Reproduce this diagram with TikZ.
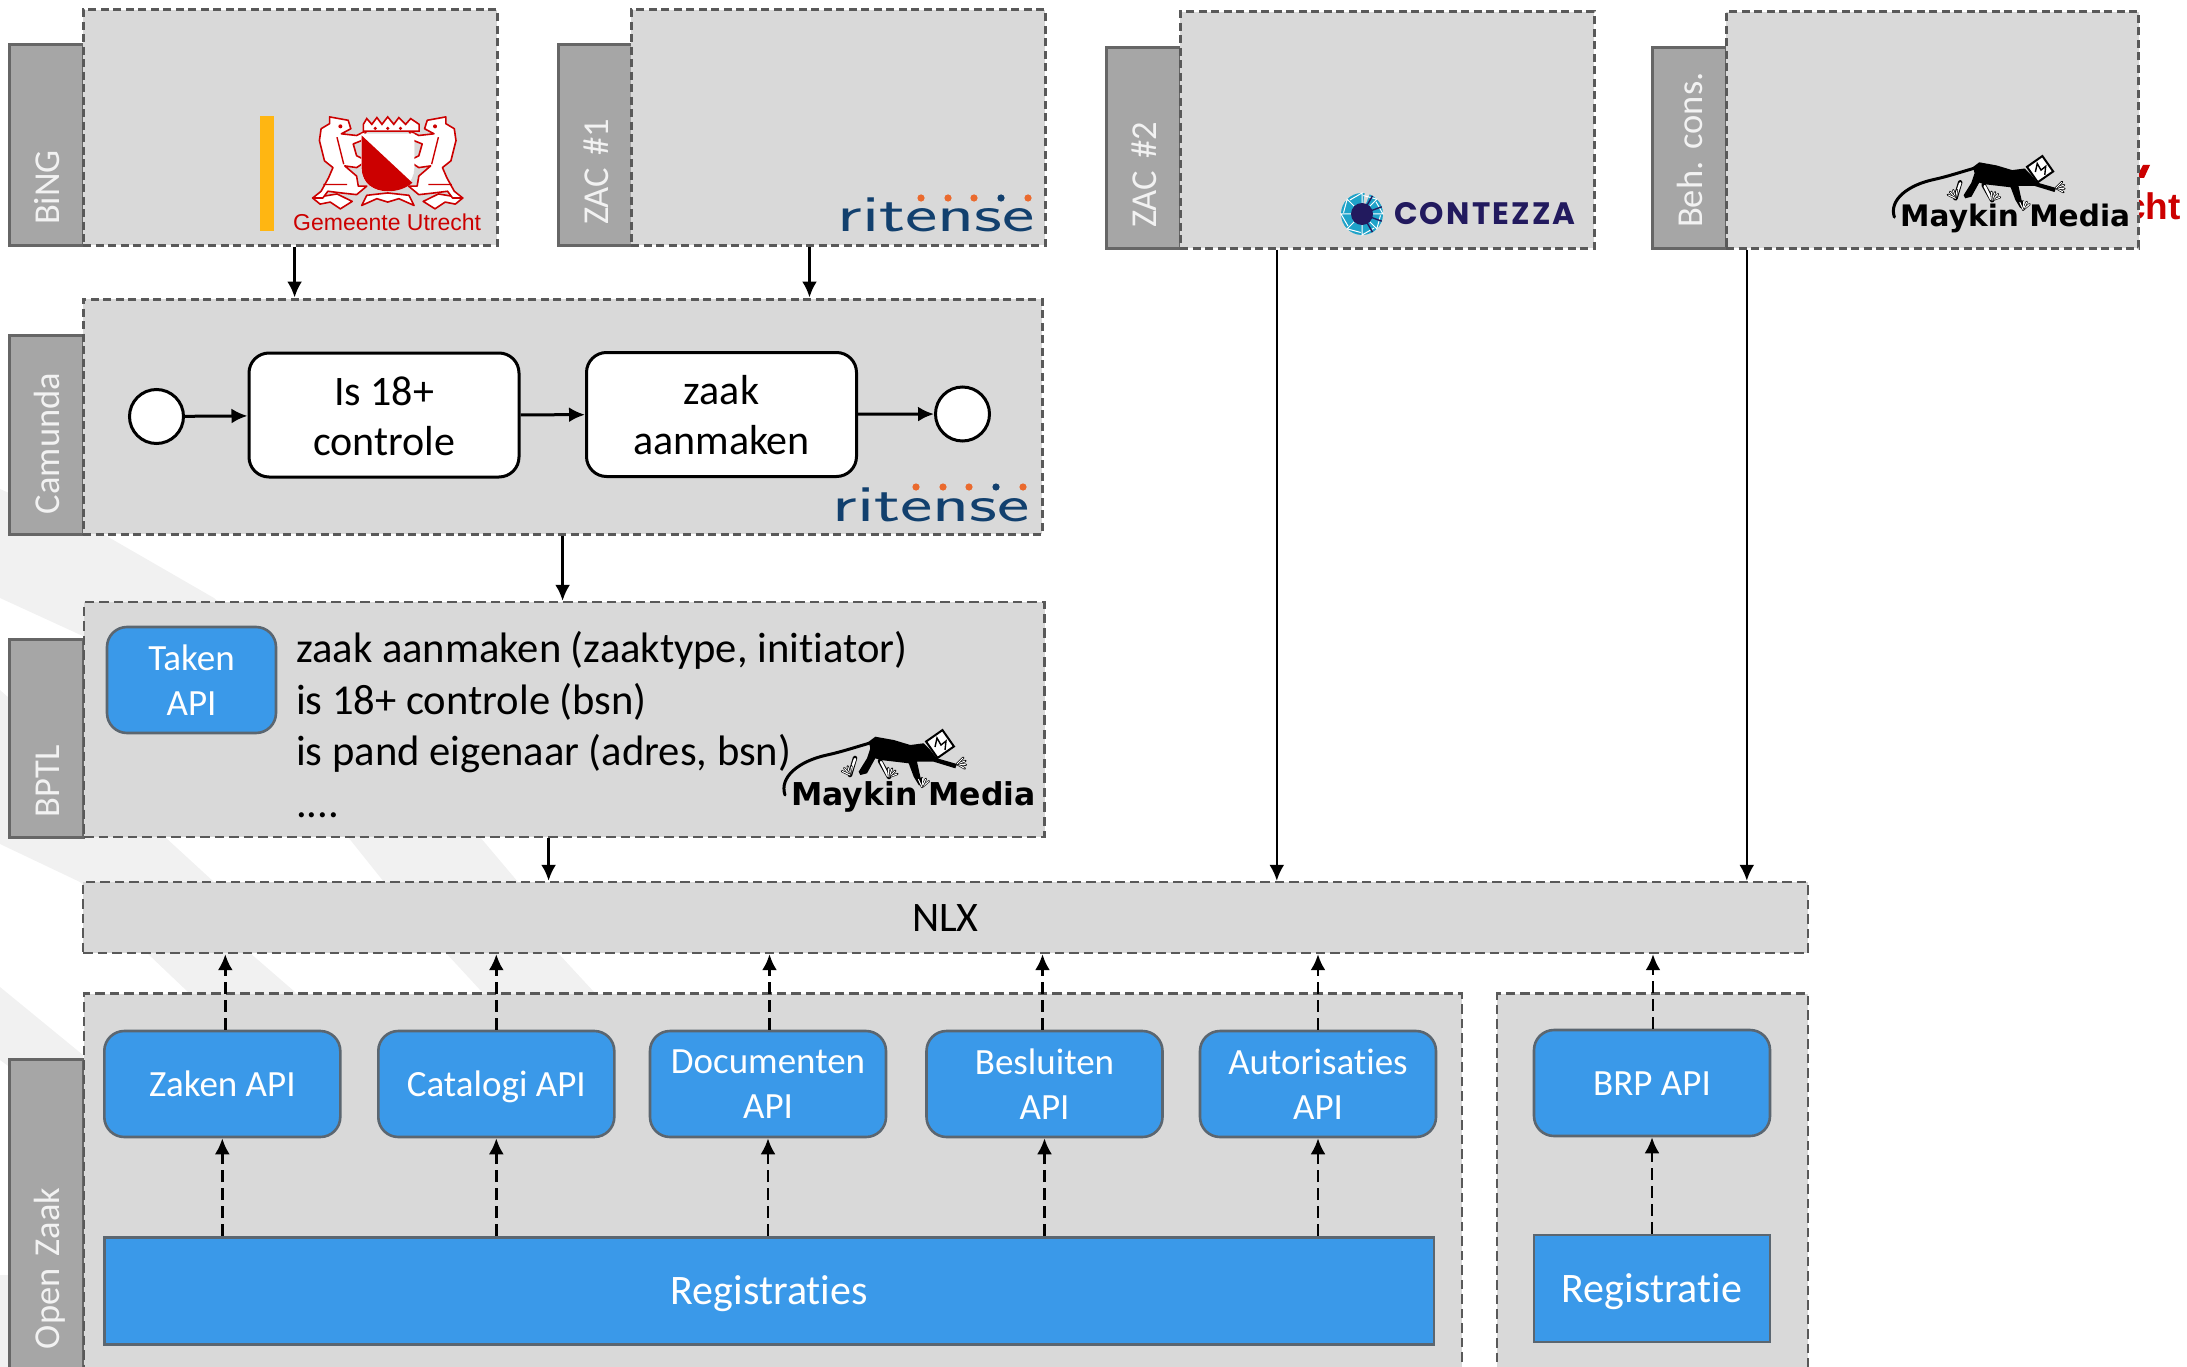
\documentclass[tikz,border=0pt]{standalone}
\usepackage{fontspec}
\usepackage{tikz}
\usetikzlibrary{arrows.meta}
\setmainfont[Ligatures=NoCommon]{Carlito}
\newfontfamily\logofont{Liberation Sans}
\newfontfamily\maykinfont{DejaVu Sans}
\newfontfamily\contezzafont[LetterSpace=7]{Poppins}
\definecolor{lanefill}{HTML}{D9D9D9}
\definecolor{laneline}{HTML}{595959}
\definecolor{tabfill}{HTML}{A6A6A6}
\definecolor{tabline}{HTML}{666666}
\definecolor{tabtext}{HTML}{F2F2F2}
\definecolor{apiblue}{HTML}{3A99E9}
\definecolor{apiline}{HTML}{5B6670}
\definecolor{stripe}{HTML}{F1F1F1}
\definecolor{utrechtred}{HTML}{CC0000}
\definecolor{utrechtbar}{HTML}{FFB612}
\definecolor{ritenseblue}{HTML}{12406E}
\definecolor{ritenseorange}{HTML}{EA6A2E}
\definecolor{contezzablue}{HTML}{221A5E}
\definecolor{contezzateal}{HTML}{1FA3C9}

\begin{document}
\begin{tikzpicture}
    [x=1pt, y=-1pt,
    lane/.style = {draw = laneline, fill = lanefill, line width = 3pt, dash pattern = on 8pt off 4.5pt, inner sep = 0pt},
    thinlane/.style = {lane, line width = 2.4pt, dash pattern = on 9.5pt off 5pt},
    tab/.style = {rotate = 90, draw = tabline, fill = tabfill, line width = 3pt, minimum height = 74pt, inner xsep = 20pt, inner ysep = 0pt,
        text width = #1, align = left, text height = 26pt, text depth = 0pt, text = tabtext, font = \fontsize{36.5}{40}\selectfont},
    task/.style = {draw = black, fill = white, line width = 3pt, rounded corners = 20pt, minimum width = 270pt, minimum height = 124pt,
        align = center, text height = 80pt, text depth = 0pt, font = \fontsize{42}{50}\selectfont},
    event/.style = {circle, draw = black, fill = white, line width = 3pt, minimum size = 54pt, inner sep = 0pt},
    api/.style = {draw = apiline, fill = apiblue, line width = 2.6pt, rounded corners = 20pt, minimum width = 236pt, minimum height = 106pt,
        align = center, text = white, font = \fontsize{37}{44.6}\selectfont},
    oneline/.style = {text height = 24pt, text depth = 0pt},
    store/.style = {draw = apiline, fill = apiblue, line width = 2.6pt, minimum height = 107pt, text height = 27pt, text depth = 0pt,
        text = white, font = \fontsize{42}{50}\selectfont},
    flow/.style = {draw = black, line width = 2.6pt, -{Latex[length = 16pt, width = 15pt]}},
    thickflow/.style = {flow, line width = 3pt},
    dashflow/.style = {flow, dash pattern = on 12pt off 6pt},
    ritense/.pic = {
        \foreach \dotx/\dotcolor in {-114/ritenseorange,-87/ritenseorange,-61/ritenseorange,-34/ritenseblue,-7/ritenseorange}
          \fill[\dotcolor] (\dotx,-34) circle (3.6pt);
        \node[anchor = base east, inner sep = 0pt, transform shape, xscale = 1.48, text = ritenseblue,
            font = \sffamily\fontsize{52}{52}\selectfont] (-text) at (0,0) {ritense};
    },
    maykin/.pic = {
        % tail, body and head of the monkey
        \draw[line width = 3pt, line cap = round] (-6,-10) .. controls (-12,-28) and (8,-44) .. (36,-50) .. controls (50,-53) and (65,-58) .. (79,-62);
        \draw[line width = 4.5pt, line cap = round] (64,-47) -- (59,-30) (89,-44) -- (98,-28);
        \draw[white, line width = 2.4pt, line cap = round] (64,-46) -- (59,-31) (90,-43) -- (97,-29);
        \fill[black] (77.7,-63.3) -- (84.3,-68.3) -- (102.7,-65) -- (119.3,-60) -- (132.7,-61.7) -- (139.3,-55) -- (146,-46.7)
            -- (166,-41) -- (164.3,-36.7) -- (142.7,-43.3) -- (126,-43.3) -- (129.3,-28.3) -- (132.7,-18.3) -- (127.7,-20)
            -- (122.7,-28.3) -- (117.7,-41.7) -- (104.3,-43.3) -- (89.3,-45) -- (84.3,-46.7) -- (76,-31.7) -- (69.3,-30)
            -- (67.7,-33.3) -- (76,-46.7) -- (79.3,-56.7) -- cycle;
        \draw[fill = white, line width = 2pt, rotate around = {35:(149,-61)}] (139,-71) rectangle (159,-51);
        \draw[line width = 1.4pt] (144,-58) -- (146,-67) -- (150,-60) -- (155,-64) -- (154,-55);
        \foreach \handx/\handy/\handangle in {166/-41/10,59/-30/120,98/-28/60,131/-18/80}
          \foreach \finger in {-40,-15,10,35} {
            \draw[line width = 2.2pt, line cap = round] (\handx,\handy) -- ++(\handangle+\finger:9pt);
            \draw[white, line width = 1pt, line cap = round] (\handx,\handy) -- ++(\handangle+\finger:8.4pt);
          }
        \node[anchor = base west, inner sep = 0pt, transform shape, text = black,
            font = \maykinfont\bfseries\fontsize{31.5}{31.5}\selectfont] (-text) at (0,0) {Maykin Media};
    }]
    \useasboundingbox (0,0) rectangle (2187,1367);
    \clip (0,0) rectangle (2187,1367);

    % faint stripes behind the boxes
    \fill[stripe] (0,489) -- (103,534) -- (214,598) -- (350,720) -- (480,837) -- (518,882) -- (558,953) -- (594,992) -- (610,1020)
        -- (500,1020) -- (482,992) -- (446,953) -- (384,882) -- (348,837) -- (85,637) -- (0,598) -- cycle;
    \fill[stripe] (0,690) -- (165,837) -- (214,882) -- (250,953) -- (295,992) -- (320,1020) -- (210,1020) -- (188,992)
        -- (147,953) -- (80,882) -- (0,844) -- cycle;
    \fill[stripe] (0,987) -- (83,1055) -- (83,1120) -- (0,1060) -- cycle;
    \fill[stripe] (0,1275) rectangle (12,1367);

    % logo that sticks out behind the last box
    \node[anchor = base east, inner sep = 0pt, text = utrechtred, font = \logofont\bfseries\fontsize{37}{37}\selectfont] (chtpart) at (2181,219) {cht};
    \fill[utrechtred] (2136,178) -- (2144,178) -- (2150,165) -- (2143,165) -- cycle;

    \node[tab = 160pt] (bingtab) at (46,145) {BiNG};
    \node[tab = 160pt] (zac1tab) at (595,145) {ZAC \#1};
    \node[tab = 160pt] (zac2tab) at (1143,148) {ZAC \#2};
    \node[tab = 160pt] (behtab) at (1689,148) {Beh.~cons.};
    \node[tab = 159pt] (camundatab) at (46,434.5) {Camunda};
    \node[tab = 158pt] (bptltab) at (46,738) {BPTL};
    \node[tab = 270pt] (openzaaktab) at (46,1214) {Open Zaak};

    \node[lane, minimum width = 414pt, minimum height = 235pt] (bing) at (290,127.5) {};
    \node[lane, minimum width = 414pt, minimum height = 235pt] (zac1) at (838,127.5) {};
    \node[lane, minimum width = 414pt, minimum height = 236pt] (zac2) at (1387,130) {};
    \node[lane, minimum width = 412.5pt, minimum height = 236pt] (beh) at (1932.3,130) {};
    \node[lane, minimum width = 959pt, minimum height = 235pt] (camunda) at (562.5,416.5) {};
    \node[thinlane, minimum width = 960.5pt, minimum height = 235pt] (bptl) at (564.3,719.5) {};
    \node[thinlane, minimum width = 1725pt, minimum height = 71pt, text height = 27pt, text depth = 0pt, font = \fontsize{42}{50}\selectfont] (nlx) at (945.5,917.5) {NLX};
    \node[thinlane, minimum width = 1378pt, minimum height = 440pt] (openzaak) at (773,1213.5) {};
    \node[thinlane, minimum width = 311pt, minimum height = 440pt] (brpbox) at (1652.5,1213.5) {};

    % logos in the boxes
    \fill[utrechtbar] (260,116) rectangle (274,231);
    \begin{scope}[shift = {(240,100)}, x = .338pt, y = -.338pt]
      \foreach \side in {1,-1} {
        \begin{scope}[shift = {(437,0)}, xscale = \side]
          \draw[utrechtred, fill = white, line width = 1.6pt, line join = round] (-222,290) -- (-150,278) -- (-105,300) -- (-140,322) -- (-170,302) -- (-200,308) -- cycle;
          \draw[utrechtred, fill = white, line width = 1.6pt, line join = round] (-172,50) -- (-117,60) -- (-109,85) -- (-137,100) -- (-92,105) -- (-62,90)
              -- (-77,120) -- (-102,130) -- (-92,165) -- (-62,180) -- (-92,200) -- (-127,195) -- (-92,225) -- (-87,255) -- (-62,255)
              -- (-92,280) -- (-137,275) -- (-177,270) -- (-192,290) -- (-222,290) -- (-197,270) -- (-175,230) -- (-162,200)
              -- (-187,180) -- (-202,120) -- (-197,85) -- (-172,70) -- cycle;
          \draw[utrechtred, line width = 1.4pt] (-150,110) -- (-130,190) (-190,250) -- (-120,250);
          \fill[utrechtred] (-140,78) circle (2pt);
        \end{scope}
      }
      \draw[utrechtred, fill = white, line width = 1.6pt, line join = round] (360,312) -- (375,282) -- (437,275) -- (500,282) -- (515,312) -- (470,292) -- (437,302) -- (405,292) -- cycle;
      \draw[utrechtred, fill = white, line width = 1.6pt] (365,72) -- (375,55) -- (390,72) -- (405,52) -- (420,72) -- (437,50) -- (455,72)
          -- (470,52) -- (490,72) -- (505,55) -- (530,72) -- (530,92) -- (365,92) -- cycle;
      \foreach \crownx in {400,437,475}
        \fill[utrechtred] (\crownx,84) circle (1.8pt);
      \draw[white, fill = white] (360,100) -- (515,100) -- (515,200) .. controls (515,250) and (470,270) .. (437,270) .. controls (400,270) and (360,250) .. (360,200) -- cycle;
      \fill[utrechtred] (360,105) -- (510,245) .. controls (490,262) and (465,270) .. (437,270) .. controls (400,270) and (360,250) .. (360,200) -- cycle;
    \end{scope}
    \node[anchor = base west, inner sep = 0pt, text = utrechtred, font = \logofont\fontsize{23}{23}\selectfont] (utrechttext) at (293,231) {Gemeente Utrecht};

    \pic (ritense1) at (1035,232) {ritense};
    \pic (ritense2) at (1030,521) {ritense};
    \pic (maykin1) at (791,805) {maykin};
    \pic[scale = .94, transform shape] (maykin2) at (1900,226.5) {maykin};

    \fill[contezzateal] (1362,214) circle (21pt);
    \fill[lanefill] (1362,214) -- (1370,193) arc (-70:70:22pt) -- cycle;
    \foreach \spoke in {0,45,...,315}
      \draw[white, line width = 1pt] (1362,214) -- ++(\spoke:21pt) -- ++(\spoke+120:14pt);
    \foreach \spoke in {-60,-20,20,60}
      \draw[contezzablue, line width = 1.4pt] (1362,214) -- ++(\spoke:21pt);
    \fill[contezzablue] (1362,214) circle (11pt);
    \node[anchor = base west, inner sep = 0pt, text = contezzablue, font = \contezzafont\bfseries\fontsize{31}{31}\selectfont] (contezzatext) at (1394,225) {CONTEZZA};

    % process inside camunda
    \node[event] (startevent) at (156.5,416.5) {};
    \node[task] (controle) at (384,415) {Is 18+\\controle};
    \node[task] (aanmaken) at (721.5,414.5) {zaak\\aanmaken};
    \node[event] (endevent) at (962.5,414) {};
    \foreach \from/\to in {startevent/controle,controle/aanmaken,aanmaken/endevent}
      \draw[thickflow] (\from) -- (\to);

    \node[api, minimum width = 169pt] (takenapi) at (191.5,680) {Taken\\API};
    \node[anchor = west, inner sep = 0pt, align = left, font = \fontsize{42.6}{51.6}\selectfont] (bptllist) at (296,724.5)
        {zaak aanmaken (zaaktype, initiator)\\is 18+ controle (bsn)\\is pand eigenaar (adres, bsn)\\....};

    \node[api, oneline] (zaken) at (222.3,1084) {Zaken API};
    \node[api, oneline] (catalogi) at (496.3,1084) {Catalogi API};
    \node[api] (documenten) at (768,1084) {Documenten\\API};
    \node[api] (besluiten) at (1044.5,1084) {Besluiten\\API};
    \node[api] (autorisaties) at (1318,1084) {Autorisaties\\API};
    \node[api, oneline] (brp) at (1652,1083) {BRP API};
    \node[store, minimum width = 1329.5pt] (registraties) at (769.3,1291) {Registraties};
    \node[store, minimum width = 236pt] (registratie) at (1652,1288.5) {Registratie};

    \foreach \from/\to/\xpos in {bing/camunda/294.6,zac1/camunda/809.5,camunda/bptl/562.6,bptl/nlx/548.6,zac2/nlx/1276.8,beh/nlx/1746.8} {
      \coordinate (flowx) at (\xpos,0);
      \draw[flow] (\from.south -| flowx) -- (\to.north -| flowx);
    }
    \foreach \api/\reg/\nudge in {zaken/registraties/3,catalogi/registraties/0,documenten/registraties/1.5,besluiten/registraties/-2,autorisaties/registraties/0,brp/registratie/1} {
      \draw[dashflow] ([xshift = \nudge pt]\api.north) -- ([xshift = \nudge pt]\api.north |- nlx.south);
      \draw[dashflow] (\api.south |- \reg.north) -- (\api.south);
    }
  \end{tikzpicture}
\end{document}
